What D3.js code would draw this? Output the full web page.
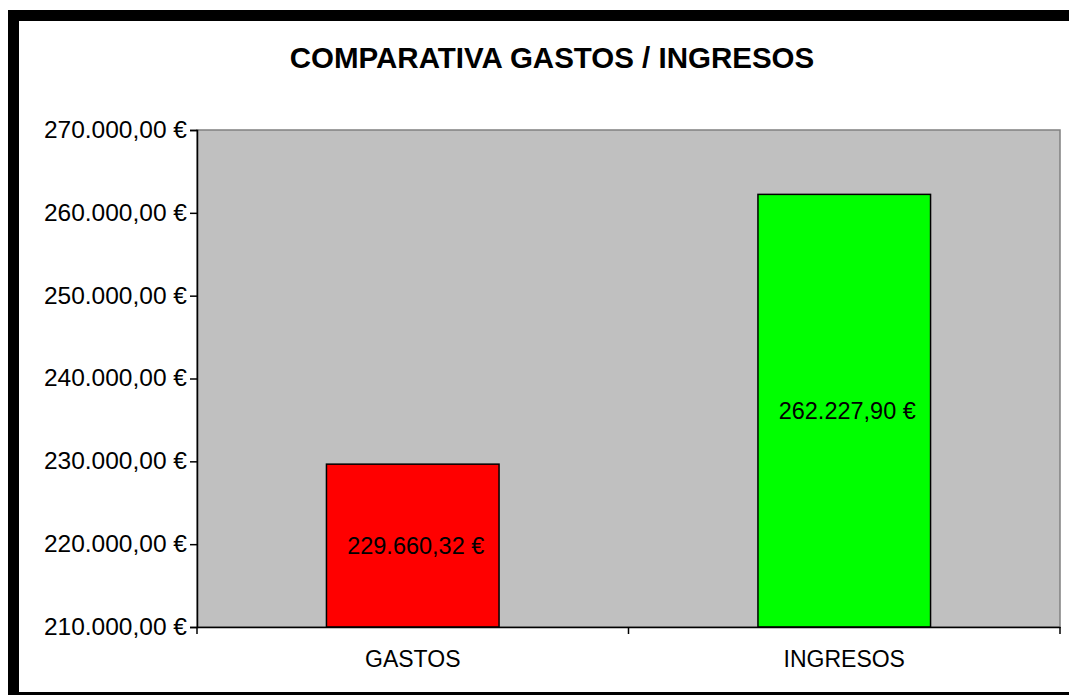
<!DOCTYPE html>
<html><head><meta charset="utf-8">
<script src="https://cdn.jsdelivr.net/npm/d3@7"></script>
<style>body{margin:0;background:#fff}svg{display:block}text{font-family:"Liberation Sans",Arial,sans-serif;fill:#000}</style>
</head><body>
<script>
const categories = ["GASTOS", "INGRESOS"];
const values = [229660.32, 262227.90];
const colors = ["#ff0000", "#00ff00"];
const yTicks = [210000, 220000, 230000, 240000, 250000, 260000, 270000];
const title = "COMPARATIVA GASTOS / INGRESOS";

const W = 1069, H = 695;
const svg = d3.select("body").append("svg").attr("width", W).attr("height", H);

// outer frame
svg.append("rect").attr("x", 13.5).attr("y", 15.5).attr("width", 1100).attr("height", 682)
  .attr("fill", "#fff").attr("stroke", "#000").attr("stroke-width", 11);

const L = 197, R = 1060, T = 130, B = 627;
const x = d3.scaleBand().domain(categories).range([L, R]).paddingInner(0).paddingOuter(0);
const y = d3.scaleLinear().domain([210000, 270000]).range([B, T]);

svg.append("rect").attr("x", L).attr("y", T).attr("width", R - L).attr("height", B - T)
  .attr("fill", "#c0c0c0").attr("stroke", "#808080").attr("stroke-width", 1.5);

const fmt = v => {
  const s = v.toFixed(2).split(".");
  return s[0].replace(/\B(?=(\d{3})+(?!\d))/g, ".") + "," + s[1] + " €";
};

// bars
const bw = x.bandwidth() * 0.4;
svg.selectAll(".bar").data(categories).join("rect")
  .attr("x", (d) => x(d) + x.bandwidth() / 2 - bw / 2)
  .attr("y", (d, i) => y(values[i]))
  .attr("width", bw)
  .attr("height", (d, i) => B - y(values[i]))
  .attr("fill", (d, i) => colors[i])
  .attr("stroke", "#000").attr("stroke-width", 1.5);

// data labels
svg.selectAll(".lbl").data(categories).join("text")
  .attr("x", d => x(d) + x.bandwidth() / 2 + 3)
  .attr("y", (d, i) => (y(values[i]) + B) / 2 + 8)
  .attr("text-anchor", "middle").attr("font-size", 23.5)
  .text((d, i) => fmt(values[i]));

// y axis
const yAxis = d3.axisLeft(y).tickValues(yTicks).tickSize(7).tickPadding(3).tickFormat(d => fmt(d));
const gy = svg.append("g").attr("transform", `translate(${L},0)`).call(yAxis);
gy.select(".domain").attr("stroke", "#000").attr("stroke-width", 1.5);
gy.selectAll(".tick line").attr("stroke", "#000").attr("stroke-width", 1.5);
gy.selectAll(".tick text").attr("font-size", 24.5).attr("font-family", '"Liberation Sans",Arial,sans-serif').attr("fill", "#000").attr("dy", "0.3em");

// x axis
const xAxis = d3.axisBottom(x).tickSize(0).tickPadding(24);
const gx = svg.append("g").attr("transform", `translate(0,${B})`).call(xAxis);
gx.select(".domain").attr("stroke", "#000").attr("stroke-width", 1.5);
gx.selectAll(".tick text").attr("font-size", 23).attr("font-family", '"Liberation Sans",Arial,sans-serif').attr("fill", "#000");
const bounds = [L, ...categories.slice(1).map(c => x(c)), R];
gx.selectAll(".sep").data(bounds).join("line")
  .attr("x1", d => d).attr("x2", d => d).attr("y1", 0).attr("y2", 7)
  .attr("stroke", "#000").attr("stroke-width", 1.5);

// title
svg.append("text").attr("x", 552).attr("y", 68).attr("text-anchor", "middle")
  .attr("font-size", 29.5).attr("font-weight", "bold").text(title);
</script>
</body></html>
